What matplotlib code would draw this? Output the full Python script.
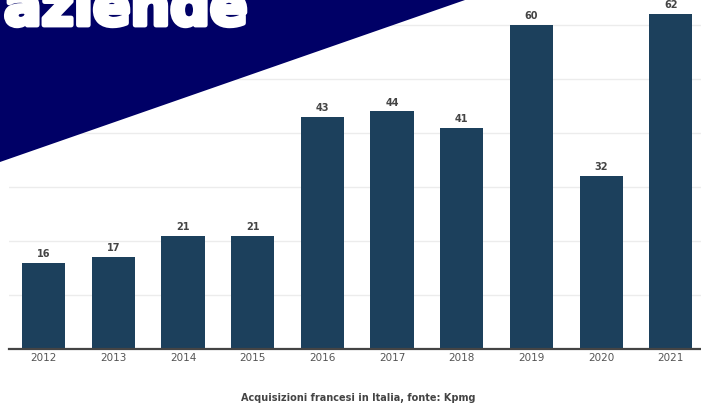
import matplotlib.pyplot as plt
import matplotlib.patheffects as pe
from matplotlib.patches import Polygon

# Data
anni = ['2012', '2013', '2014', '2015', '2016', '2017', '2018', '2019', '2020', '2021']
acquisizioni = [16, 17, 21, 21, 43, 44, 41, 60, 32, 62]

W, H = 701, 407
fig = plt.figure(figsize=(W / 100, H / 100), dpi=100)

# axes placed in pixel terms: baseline at y=349, slot width ~69.7 px
slot = 69.7
left_px = 8.7
ax = fig.add_axes([left_px / W, (H - 349) / H, 10 * slot / W, 349 / H])

x = list(range(len(anni)))
bars = ax.bar(x, acquisizioni, width=0.62, color='#1c405c', zorder=2)
ax.set_xlim(-0.5, 9.5)
ax.set_ylim(0, 349 / 5.4)

for xi, v in zip(x, acquisizioni):
    ax.text(xi, v + 0.7, str(v), ha='center', va='bottom', fontsize=7,
            fontweight='bold', color='#444444')

ax.set_yticks([10, 20, 30, 40, 50, 60])
ax.set_yticklabels([])
ax.tick_params(axis='y', length=0)
ax.grid(axis='y', color='#ececec', linewidth=1, zorder=0)
ax.set_xticks(x)
ax.set_xticklabels(anni, fontsize=7.5, color='#555555')
ax.tick_params(axis='x', length=0, pad=3)
for s in ['top', 'right', 'left']:
    ax.spines[s].set_visible(False)
ax.spines['bottom'].set_color('#444444')
ax.spines['bottom'].set_linewidth(1.6)

fig.text(358 / W, 1 - 398 / H, 'Acquisizioni francesi in Italia, fonte: Kpmg',
         ha='center', va='center', fontsize=7, fontweight='bold', color='#444444')

# navy banner in the top-left corner
tri = Polygon([(0, 1), (465 / W, 1), (0, 1 - 162 / H)], closed=True,
              transform=fig.transFigure, facecolor='#000066', edgecolor='none', zorder=10)
fig.patches.append(tri)
fig.text(4 / W, 1 - 25 / H, 'aziende', ha='left', va='baseline', fontsize=40,
         fontweight='heavy', color='white', zorder=11,
         path_effects=[pe.withStroke(linewidth=3.5, foreground='white')])

fig.savefig('out.png', dpi=100)
